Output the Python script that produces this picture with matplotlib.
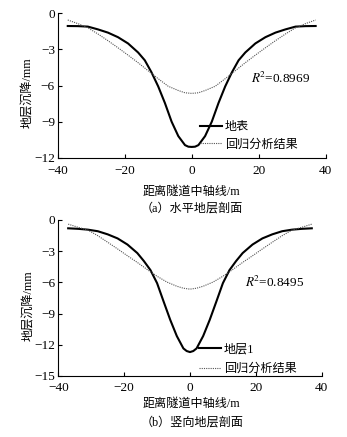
import numpy as np
import matplotlib
matplotlib.use('Agg')
import matplotlib.pyplot as plt

plt.rcParams['font.family'] = ['Liberation Serif', 'Noto Sans CJK SC']
plt.rcParams['mathtext.fontset'] = 'stix'
plt.rcParams['axes.unicode_minus'] = True

# distance from tunnel axis (m), left half; right half mirrors it
x_solid_half = [-37, -34, -31, -28, -25, -22, -19, -16, -14, -12, -10, -8, -6, -4, -2, -1, 0]
x_fit_half = [-37, -34, -31, -28, -25, -22, -19, -16, -13, -10, -7, -4, -2, 0]

# (a) horizontal section: 地表 and regression
surf_half = [-1.05, -1.06, -1.1, -1.33, -1.6, -1.98, -2.5, -3.25, -3.9, -4.9,
             -6.07, -7.45, -9.0, -10.2, -10.95, -11.08, -11.1]
fit_a_half = [-0.55, -0.85, -1.2, -1.71, -2.27, -2.86, -3.47, -4.1, -4.77,
              -5.43, -6.06, -6.41, -6.6, -6.65]

# (b) vertical section: 地层1 and regression
layer_half = [-0.8, -0.85, -0.93, -1.08, -1.38, -1.77, -2.36, -3.18, -3.95, -4.82,
              -6.07, -7.85, -9.6, -11.16, -12.35, -12.6, -12.7]
fit_b_half = [-0.4, -0.7, -0.97, -1.51, -2.14, -2.78, -3.44, -4.08, -4.76,
              -5.41, -5.97, -6.37, -6.56, -6.65]


def mirror(xh, yh):
    xs = list(xh) + [-v for v in xh[-2::-1]]
    ys = list(yh) + list(yh[-2::-1])
    return np.array(xs), np.array(ys)


panels = [
    dict(rect=[0.1663, 0.639, 0.7723, 0.3304], ylim=(-12, 0), yticks=[0, -3, -6, -9, -12],
         solid=surf_half, fit=fit_a_half, name='地表', r2=r'$R^{\!2}$=0.8969',
         r2pos=(0.72, 0.55), legpos=(0.531, 0.255), labelsp=0.45, xpad=5.5,
         caption='（a）水平地层剖面', xl_y=0.562, cap_y=0.522),
    dict(rect=[0.168, 0.1396, 0.759, 0.357], ylim=(-15, 0), yticks=[0, -3, -6, -9, -12, -15],
         solid=layer_half, fit=fit_b_half, name='地层1', r2=r'$R^{\!2}$=0.8495',
         r2pos=(0.71, 0.60), legpos=(0.534, 0.21), labelsp=0.65, xpad=4.5,
         caption='（b）竖向地层剖面', xl_y=0.076, cap_y=0.033),
]

fig = plt.figure(figsize=(3.47, 4.37), dpi=100)

for p in panels:
    ax = fig.add_axes(p['rect'])
    xs, ys = mirror(x_solid_half, p['solid'])
    xf, yf = mirror(x_fit_half, p['fit'])
    ax.plot(xs, ys, color='black', lw=1.5, label=p['name'])
    ax.plot(xf, yf, color='#555555', lw=0.8, ls=(0, (1, 1)), label='回归分析结果')
    ax.set_xlim(-40, 40)
    ax.set_ylim(*p['ylim'])
    ax.set_xticks([-40, -20, 0, 20, 40])
    ax.set_yticks(p['yticks'])
    ax.spines['top'].set_visible(False)
    ax.spines['right'].set_visible(False)
    ax.spines['left'].set_linewidth(0.8)
    ax.spines['bottom'].set_linewidth(0.8)
    ax.tick_params(direction='in', length=3, width=0.8, labelsize=9.5)
    ax.tick_params(axis='x', pad=p['xpad'])
    ax.tick_params(axis='y', pad=2)
    ax.set_ylabel('地层沉降/mm', fontsize=8.7, va='center')
    ax.yaxis.set_label_coords(-0.112, 0.45)
    ax.text(p['r2pos'][0], p['r2pos'][1], p['r2'], transform=ax.transAxes,
            fontsize=9.5, ha='left', va='center')
    ax.legend(loc='upper left', bbox_to_anchor=p['legpos'], frameon=False,
              fontsize=8.7, handlelength=1.8, handletextpad=0.25,
              labelspacing=p['labelsp'], borderpad=0, borderaxespad=0)
    fig.text(0.553, p['xl_y'], '距离隧道中轴线/m', fontsize=8.7, ha='center', va='center')
    fig.text(0.553, p['cap_y'], p['caption'], fontsize=8.7, ha='center', va='center')

fig.savefig('out.png', dpi=100)
